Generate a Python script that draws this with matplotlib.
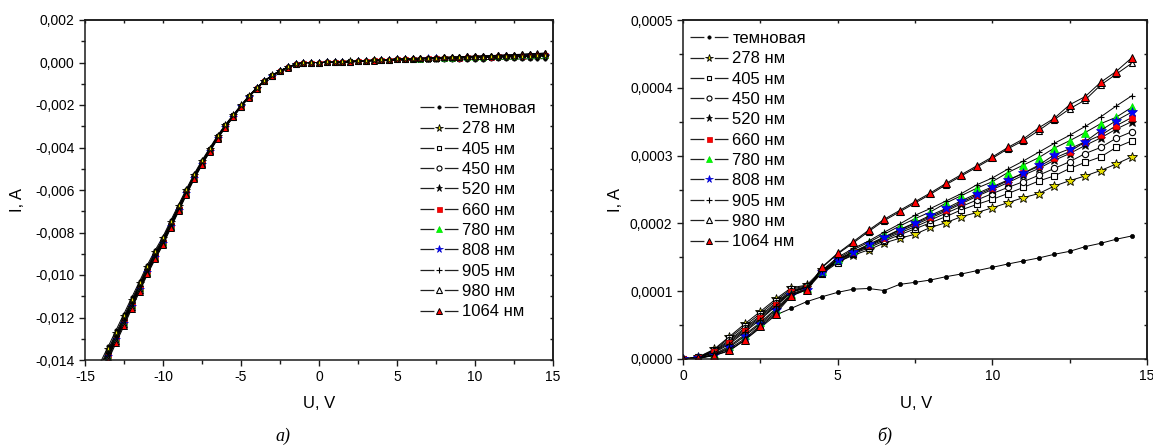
import numpy as np
import matplotlib
matplotlib.use('Agg')
import matplotlib.pyplot as plt
from matplotlib.ticker import MultipleLocator, FuncFormatter
from matplotlib.lines import Line2D

plt.rcParams['font.family'] = ['Liberation Sans', 'DejaVu Sans']
plt.rcParams['lines.scale_dashes'] = False

# ---------------- data ----------------
labels = ['темновая', '278 нм', '405 нм', '450 нм', '520 нм', '660 нм',
          '780 нм', '808 нм', '905 нм', '980 нм', '1064 нм']

u_neg = np.arange(-14.0, -0.49, 0.5)   # reverse branch, V
u_pos = np.arange(0.0, 14.51, 0.5)     # forward branch, V

# forward branch, units of 1e-4 A
pos_dark = [0, 0.02, 0.05, 0.12, 0.28, 0.46, 0.649, 0.747, 0.846, 0.919, 0.983, 1.03, 1.04, 1.01, 1.10,
            1.131, 1.165, 1.214, 1.254, 1.303, 1.352, 1.401, 1.446, 1.49, 1.544, 1.588, 1.657, 1.706, 1.766, 1.814]
pos_278 = [0, 0.03, 0.143, 0.33, 0.52, 0.70, 0.885, 1.05, 1.09, 1.32, 1.43, 1.53, 1.61, 1.71, 1.78,
           1.84, 1.94, 2.01, 2.10, 2.16, 2.23, 2.305, 2.38, 2.44, 2.55, 2.63, 2.70, 2.78, 2.875, 2.98]
pos_405 = [0, 0.03, 0.13, 0.31, 0.49, 0.67, 0.86, 1.03, 1.08, 1.26, 1.42, 1.55, 1.64, 1.74, 1.83,
           1.92, 2.01, 2.10, 2.20, 2.28, 2.355, 2.44, 2.53, 2.625, 2.70, 2.81, 2.90, 2.98, 3.12, 3.215]
pos_450 = [0, 0.025, 0.12, 0.28, 0.46, 0.64, 0.83, 1.01, 1.07, 1.27, 1.44, 1.56, 1.66, 1.76, 1.86,
           1.95, 2.05, 2.15, 2.25, 2.345, 2.44, 2.53, 2.615, 2.71, 2.81, 2.91, 3.03, 3.12, 3.255, 3.35]
pos_520 = [0, 0.02, 0.11, 0.26, 0.44, 0.62, 0.81, 1.00, 1.06, 1.27, 1.45, 1.57, 1.67, 1.78, 1.88,
           1.98, 2.08, 2.18, 2.29, 2.40, 2.50, 2.60, 2.71, 2.81, 2.93, 3.03, 3.15, 3.26, 3.39, 3.50]
pos_660 = [0, 0.02, 0.10, 0.24, 0.42, 0.60, 0.79, 0.99, 1.05, 1.29, 1.47, 1.58, 1.68, 1.79, 1.90,
           2.00, 2.10, 2.20, 2.31, 2.42, 2.52, 2.63, 2.74, 2.84, 2.96, 3.06, 3.20, 3.30, 3.44, 3.56]
pos_780 = [0, 0.015, 0.07, 0.19, 0.36, 0.54, 0.74, 0.96, 1.04, 1.30, 1.48, 1.61, 1.72, 1.84, 1.96,
           2.07, 2.17, 2.30, 2.41, 2.52, 2.615, 2.75, 2.86, 2.97, 3.11, 3.22, 3.34, 3.47, 3.565, 3.71]
pos_808 = [0, 0.01, 0.06, 0.17, 0.34, 0.52, 0.72, 0.94, 1.02, 1.28, 1.46, 1.58, 1.69, 1.80, 1.91,
           2.01, 2.12, 2.22, 2.335, 2.44, 2.54, 2.64, 2.74, 2.86, 3.01, 3.10, 3.205, 3.37, 3.515, 3.64]
pos_905 = [0, 0.02, 0.09, 0.22, 0.40, 0.58, 0.78, 0.98, 1.06, 1.31, 1.50, 1.63, 1.74, 1.87, 1.99,
           2.12, 2.22, 2.33, 2.44, 2.57, 2.67, 2.80, 2.92, 3.05, 3.18, 3.30, 3.43, 3.57, 3.73, 3.88]
pos_980 = [0, 0.01, 0.06, 0.15, 0.30, 0.50, 0.69, 0.95, 1.03, 1.35, 1.55, 1.71, 1.88, 2.04, 2.17,
           2.30, 2.43, 2.57, 2.70, 2.83, 2.96, 3.10, 3.22, 3.37, 3.53, 3.69, 3.82, 4.04, 4.20, 4.36]
pos_1064 = [0, 0.01, 0.05, 0.13, 0.28, 0.48, 0.67, 0.93, 1.02, 1.36, 1.56, 1.73, 1.90, 2.06, 2.19,
            2.32, 2.45, 2.59, 2.72, 2.85, 2.98, 3.12, 3.245, 3.41, 3.55, 3.75, 3.87, 4.08, 4.24, 4.44]

# reverse branch, units of 1e-3 A (U = -14 ... -0.5)
neg_dark = [-14.09, -13.35, -12.58, -11.82, -11.05, -10.29, -9.52, -8.83, -8.19, -7.43, -6.69, -5.95, -5.24, -4.60,
            -4.02, -3.43, -2.92, -2.46, -2.00, -1.57, -1.18, -0.85, -0.60, -0.38, -0.22, -0.08, -0.01, 0.0]
neg_278 = [-14.23, -13.48, -12.71, -11.94, -11.16, -10.39, -9.61, -8.92, -8.27, -7.51, -6.76, -6.01, -5.29, -4.65,
           -4.06, -3.47, -2.95, -2.48, -2.02, -1.59, -1.19, -0.86, -0.61, -0.38, -0.23, -0.08, -0.01, 0.0]
neg_405 = [-14.31, -13.55, -12.77, -12.00, -11.22, -10.44, -9.66, -8.97, -8.32, -7.54, -6.79, -6.04, -5.32, -4.67,
           -4.08, -3.48, -2.96, -2.49, -2.03, -1.59, -1.20, -0.86, -0.61, -0.39, -0.23, -0.08, -0.01, 0.0]
neg_450 = [-14.38, -13.62, -12.84, -12.06, -11.27, -10.50, -9.71, -9.01, -8.36, -7.58, -6.83, -6.07, -5.34, -4.70,
           -4.10, -3.50, -2.98, -2.51, -2.04, -1.60, -1.20, -0.87, -0.62, -0.39, -0.23, -0.08, -0.01, 0.0]
neg_520 = [-14.45, -13.69, -12.90, -12.12, -11.33, -10.55, -9.76, -9.06, -8.40, -7.62, -6.86, -6.10, -5.37, -4.72,
           -4.12, -3.52, -2.99, -2.52, -2.05, -1.61, -1.21, -0.87, -0.62, -0.39, -0.23, -0.08, -0.01, 0.0]
neg_660 = [-14.52, -13.76, -12.96, -12.18, -11.39, -10.60, -9.81, -9.11, -8.44, -7.66, -6.89, -6.13, -5.40, -4.74,
           -4.14, -3.54, -3.00, -2.53, -2.06, -1.62, -1.22, -0.87, -0.62, -0.39, -0.23, -0.08, -0.01, 0.0]
neg_780 = [-14.57, -13.80, -13.00, -12.22, -11.42, -10.63, -9.84, -9.13, -8.47, -7.68, -6.91, -6.15, -5.41, -4.76,
           -4.15, -3.55, -3.01, -2.54, -2.07, -1.62, -1.22, -0.88, -0.62, -0.39, -0.23, -0.08, -0.01, 0.0]
neg_808 = [-14.59, -13.83, -13.03, -12.24, -11.44, -10.66, -9.86, -9.15, -8.48, -7.70, -6.93, -6.16, -5.42, -4.77,
           -4.16, -3.56, -3.02, -2.55, -2.07, -1.63, -1.22, -0.88, -0.63, -0.39, -0.23, -0.08, -0.01, 0.0]
neg_905 = [-14.42, -13.66, -12.87, -12.10, -11.31, -10.53, -9.74, -9.04, -8.38, -7.60, -6.85, -6.09, -5.36, -4.71,
           -4.11, -3.51, -2.98, -2.51, -2.05, -1.61, -1.21, -0.87, -0.62, -0.39, -0.23, -0.08, -0.01, 0.0]
neg_980 = [-14.67, -13.90, -13.09, -12.30, -11.50, -10.71, -9.91, -9.20, -8.53, -7.73, -6.96, -6.19, -5.45, -4.79,
           -4.18, -3.57, -3.03, -2.56, -2.08, -1.63, -1.23, -0.88, -0.63, -0.40, -0.23, -0.08, -0.01, 0.0]
neg_1064 = [-14.77, -13.99, -13.18, -12.39, -11.58, -10.78, -9.97, -9.26, -8.58, -7.79, -7.01, -6.23, -5.49, -4.82,
            -4.21, -3.60, -3.06, -2.58, -2.10, -1.65, -1.24, -0.89, -0.63, -0.40, -0.24, -0.08, -0.01, 0.0]

pos_all = [pos_dark, pos_278, pos_405, pos_450, pos_520, pos_660, pos_780, pos_808, pos_905, pos_980, pos_1064]
neg_all = [neg_dark, neg_278, neg_405, neg_450, neg_520, neg_660, neg_780, neg_808, neg_905, neg_980, neg_1064]

# ---------------- styles ----------------
styles = [
    dict(marker='o', ms=3.0, mfc='black', mec='black', mew=0.5),
    dict(marker='*', ms=7.0, mfc='#e8e000', mec='black', mew=0.6),
    dict(marker='s', ms=4.2, mfc='white', mec='black', mew=0.8),
    dict(marker='o', ms=4.5, mfc='white', mec='black', mew=0.8),
    dict(marker='*', ms=6.5, mfc='black', mec='black', mew=0.5),
    dict(marker='s', ms=4.5, mfc='#ff0000', mec='#cc0000', mew=0.5),
    dict(marker='^', ms=5.5, mfc='#00ff00', mec='#00dd00', mew=0.5),
    dict(marker='*', ms=7.0, mfc='#0000ff', mec='#0000cc', mew=0.5),
    dict(marker='+', ms=5.0, mfc='black', mec='black', mew=0.8),
    dict(marker='^', ms=5.0, mfc='white', mec='black', mew=0.8),
    dict(marker='^', ms=5.5, mfc='#ff0000', mec='black', mew=0.7),
]

W, H = 1153, 445
fig = plt.figure(figsize=(W / 100, H / 100), dpi=100)


def fx(px):
    return px / W


def fy(py):
    return 1 - py / H


def axes_px(l, t, r, b):
    return [fx(l), fy(b), (r - l) / W, (b - t) / H]


ax1 = fig.add_axes(axes_px(85, 20, 553, 360))
ax2 = fig.add_axes(axes_px(683, 20, 1147, 359))

spine_c = '#1a1a1a'


def style_axes(ax, xmaj, xmin, ymaj, ymin, yfmt):
    for s in ax.spines.values():
        s.set_linewidth(1.1)
        s.set_color(spine_c)
    ax.xaxis.set_major_locator(MultipleLocator(xmaj))
    ax.xaxis.set_minor_locator(MultipleLocator(xmin))
    ax.yaxis.set_major_locator(MultipleLocator(ymaj))
    ax.yaxis.set_minor_locator(MultipleLocator(ymin))
    ax.yaxis.set_major_formatter(FuncFormatter(yfmt))
    ax.xaxis.set_major_formatter(FuncFormatter(lambda v, p: f"{v:.0f}".replace('-0', '0') if abs(v) < 1e-9 else f"{v:.0f}"))
    ax.tick_params(which='major', direction='out', length=4.5, width=1.0, color=spine_c,
                   labelsize=10, pad=3, top=False, right=False)
    ax.tick_params(which='minor', direction='out', length=3, width=1.0, color=spine_c,
                   top=False, right=False)
    sx = ax.secondary_xaxis('top')
    sx.xaxis.set_major_locator(MultipleLocator(xmaj))
    sx.xaxis.set_minor_locator(MultipleLocator(xmin))
    sx.tick_params(which='both', direction='in', length=2.5, width=1.0, color=spine_c, labeltop=False)
    sx.spines['top'].set_linewidth(1.1)
    sx.spines['top'].set_color(spine_c)
    sy = ax.secondary_yaxis('right')
    sy.yaxis.set_major_locator(MultipleLocator(ymaj))
    sy.yaxis.set_minor_locator(MultipleLocator(ymin))
    sy.tick_params(which='both', direction='in', length=2.5, width=1.0, color=spine_c, labelright=False)
    sy.spines['right'].set_linewidth(1.1)
    sy.spines['right'].set_color(spine_c)


def fmt3(v, p):
    s = f"{v:.3f}"
    if s == '-0.000':
        s = '0.000'
    return s.replace('.', ',')


def fmt4(v, p):
    s = f"{v:.4f}"
    if s == '-0.0000':
        s = '0.0000'
    return s.replace('.', ',')


# ---------------- left panel ----------------
u_left = np.concatenate([u_neg, u_pos])
for k, (neg, pos, st) in enumerate(zip(neg_all, pos_all, styles)):
    i_left = np.concatenate([np.array(neg) * 1e-3, np.array(pos) * 1e-4])
    kw = dict(st)
    kw['ms'] = kw['ms'] * 0.8
    z = 3 if k == 1 else 2
    ax1.plot(u_left, i_left, color='black', lw=0.7, zorder=z, **kw)
ax1.set_xlim(-15, 15)
ax1.set_ylim(-0.014, 0.002)
style_axes(ax1, 5, 2.5, 0.002, 0.001, fmt3)

# ---------------- right panel ----------------
for pos, st in zip(pos_all, styles):
    ax2.plot(u_pos, np.array(pos) * 1e-4, color='black', lw=0.7, **st)
ax2.set_xlim(0, 15)
ax2.set_ylim(0, 0.0005)
style_axes(ax2, 5, 2.5, 0.0001, 0.00005, fmt4)

# ---------------- legends ----------------
def make_handles():
    hs = []
    for st in styles:
        ln = Line2D([], [], color='#202020', lw=0.9, ls=(0, (10, 7.5, 10, 30)))
        kw = dict(st)
        kw['ms'] = kw['ms'] * 0.8
        mk = Line2D([], [], ls='none', **kw)
        hs.append((ln, mk))
    return hs


leg_kw = dict(loc='upper left', bbox_transform=fig.transFigure, frameon=False,
              borderpad=0, borderaxespad=0, handlelength=2.3, handletextpad=0.25,
              labelspacing=0.32, fontsize=12, numpoints=1)
ax1.legend(make_handles(), labels, bbox_to_anchor=(fx(420), fy(101)), **leg_kw)
ax2.legend(make_handles(), labels, bbox_to_anchor=(fx(690), fy(31)), **leg_kw)

# ---------------- axis labels & captions ----------------
fig.text(fx(319), fy(403), 'U, V', ha='center', va='center', fontsize=12)
fig.text(fx(916), fy(403), 'U, V', ha='center', va='center', fontsize=12)
fig.text(fx(17), fy(200), 'I, A', ha='center', va='center', rotation=90, fontsize=12)
fig.text(fx(615), fy(200), 'I, A', ha='center', va='center', rotation=90, fontsize=12)
fig.text(fx(283), fy(436), 'а)', ha='center', va='center', fontsize=13,
         family=['Liberation Serif', 'DejaVu Serif'], style='italic')
fig.text(fx(885), fy(436), 'б)', ha='center', va='center', fontsize=13,
         family=['Liberation Serif', 'DejaVu Serif'], style='italic')

fig.savefig('out.png', dpi=100)
